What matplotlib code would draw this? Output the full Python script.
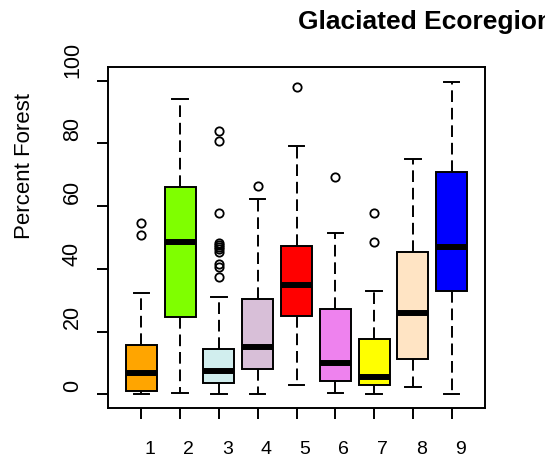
import matplotlib
matplotlib.use("Agg")
import matplotlib.pyplot as plt
import matplotlib.transforms as mtransforms

plt.rcParams["font.family"] = ["Liberation Sans", "DejaVu Sans"]

# summary statistics per ecoregion group (percent forest)
groups = [1, 2, 3, 4, 5, 6, 7, 8, 9]
whisker_low = [0.0, 0.5, 0.0, 0.0, 3.0, 0.5, 0.0, 2.2, 0.0]
q1 = [1.1, 24.5, 3.7, 8.0, 25.1, 4.3, 3.0, 11.3, 32.9]
median = [6.7, 48.7, 7.4, 15.0, 34.8, 9.9, 5.6, 25.8, 46.9]
q3 = [15.6, 66.0, 14.3, 30.3, 47.4, 27.2, 17.5, 45.5, 71.0]
whisker_high = [32.2, 94.0, 30.9, 62.2, 79.2, 51.3, 33.0, 74.9, 99.7]
outliers = [
    [54.5, 50.8],
    [],
    [84.0, 80.8, 57.7, 48.4, 47.6, 46.9, 46.2, 45.5, 41.6, 40.5, 37.3],
    [66.5],
    [97.9],
    [69.2],
    [57.7, 48.7],
    [],
    [],
]
box_colors = ["#FFA500", "#7FFF00", "#D1EEEE", "#D8BFD8", "#FF0000",
              "#EE82EE", "#FFFF00", "#FFE4C4", "#0000FF"]
y_ticks = [0, 20, 40, 60, 80, 100]

stats = []
for i in range(len(groups)):
    stats.append(dict(med=median[i], q1=q1[i], q3=q3[i],
                      whislo=whisker_low[i], whishi=whisker_high[i],
                      fliers=outliers[i]))

fig = plt.figure(figsize=(5.45, 4.62), dpi=100)
ax = fig.add_axes([108 / 545, 54 / 462, 377 / 545, 341 / 462])

bp = ax.bxp(stats, positions=groups, widths=0.8, patch_artist=True,
            boxprops=dict(linewidth=1.4, edgecolor="black"),
            medianprops=dict(color="black", linewidth=4.3, solid_capstyle="butt"),
            whiskerprops=dict(color="black", linewidth=1.4, linestyle=(0, (6, 3))),
            capprops=dict(color="black", linewidth=1.4),
            flierprops=dict(marker="o", markerfacecolor="none", markeredgecolor="black",
                            markersize=6, markeredgewidth=1.3))
for patch, c in zip(bp["boxes"], box_colors):
    patch.set_facecolor(c)

ax.set_xlim(0.14, 9.86)
ax.set_ylim(-4.35, 104.35)
ax.set_xticks(groups)
ax.set_xticklabels([str(g) for g in groups])
ax.set_yticks(y_ticks)
ax.set_yticklabels([str(t) for t in y_ticks])

for side in ax.spines.values():
    side.set_linewidth(1.4)

ax.tick_params(axis="x", length=8, width=1.4, pad=16, labelsize=14)
ax.tick_params(axis="y", length=8, width=1.4, pad=10, labelsize=15.5, labelrotation=90)

shift_x = mtransforms.ScaledTranslation(3 / 100, 0, fig.dpi_scale_trans)
for lab in ax.get_xticklabels():
    lab.set_ha("left")
    lab.set_transform(lab.get_transform() + shift_x)
shift_y = mtransforms.ScaledTranslation(0, 2.5 / 100, fig.dpi_scale_trans)
for lab in ax.get_yticklabels():
    lab.set_va("bottom")
    lab.set_transform(lab.get_transform() + shift_y)

fig.text(298 / 545, 1 - 29.5 / 462, "Glaciated Ecoregion", fontsize=19,
         fontweight="bold", ha="left", va="baseline")
fig.text(30 / 545, 1 - 239 / 462, "Percent Forest", fontsize=16, rotation=90,
         rotation_mode="anchor", ha="left", va="baseline")

fig.savefig("out.png", dpi=100)
